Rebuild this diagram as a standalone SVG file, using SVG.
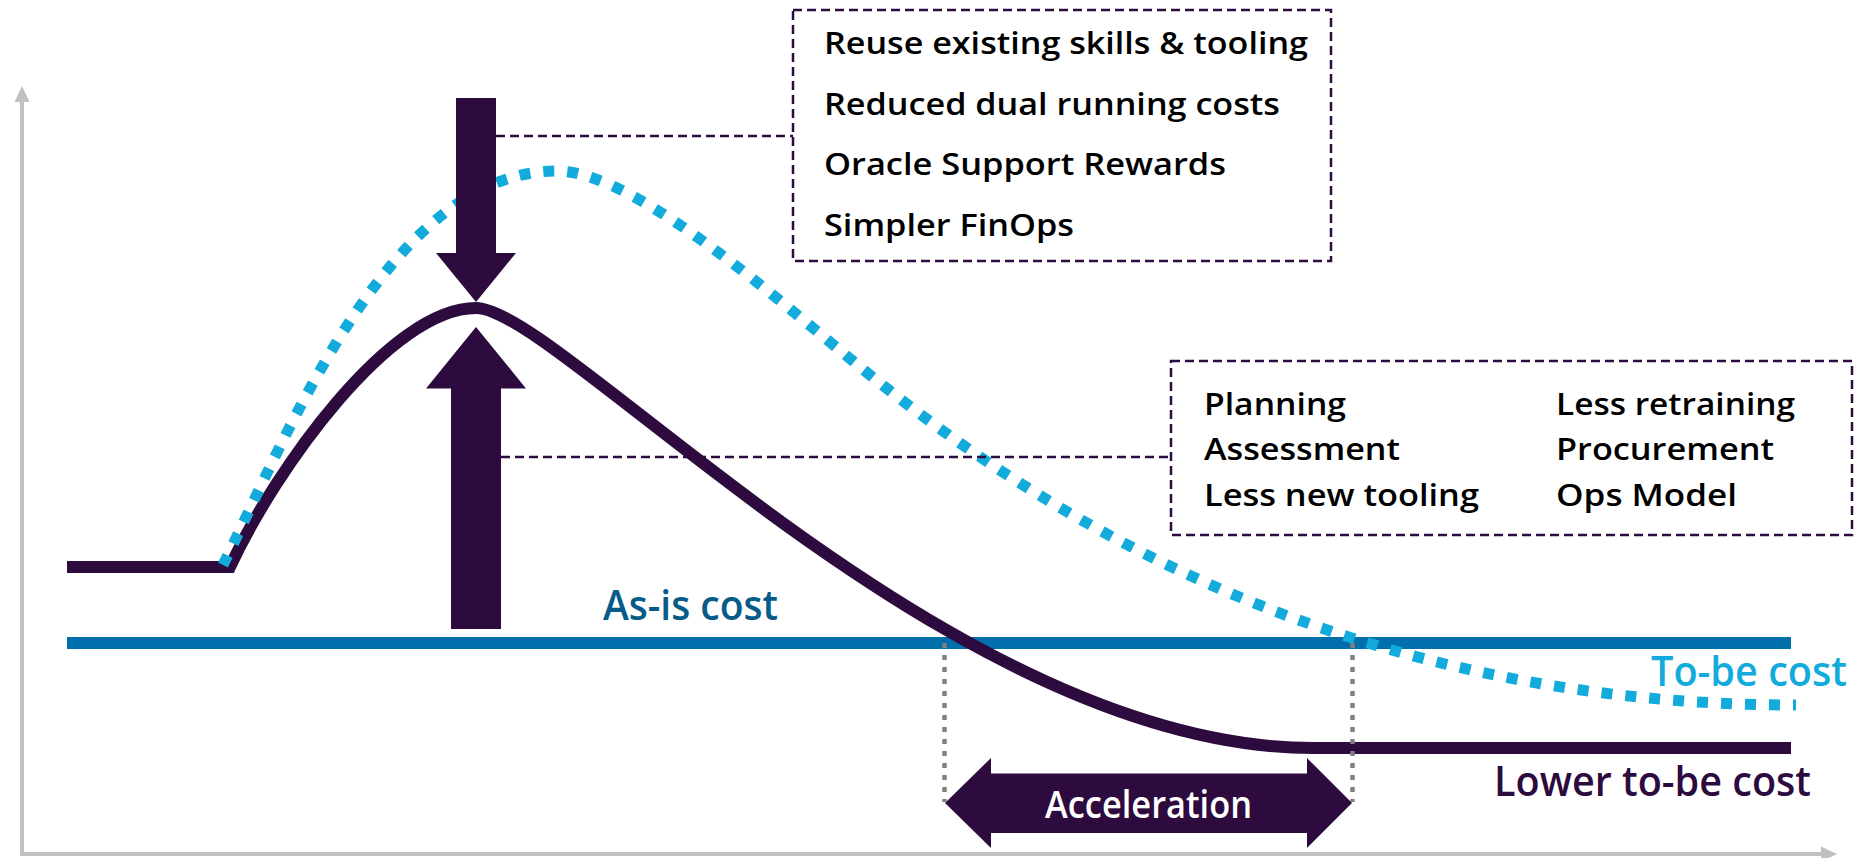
<svg xmlns="http://www.w3.org/2000/svg" width="1873" height="858" viewBox="0 0 1873 858">
  <style>
    .txt { font-family: "Open Sans", "Noto Sans", "Liberation Sans", sans-serif; font-weight: 600; }
    .box { fill: none; stroke: #2d0b3e; stroke-width: 2.5; stroke-dasharray: 9 5; }
    .conn { fill: none; stroke: #2d0b3e; stroke-width: 2.5; stroke-dasharray: 9 5; }
    .item { font-size: 31px; fill: #000000; }
    .purple { fill: #2d0b3e; }
    .gray { fill: none; stroke: #808080; stroke-width: 4.5; stroke-dasharray: 5 7; }
  </style>
  <rect x="0" y="0" width="1873" height="858" fill="#ffffff"/>

  <g id="axes">
    <line x1="22" y1="854" x2="22" y2="100" stroke="#c0c0c0" stroke-width="4"/>
    <polygon points="22,86 29.5,102 14.5,102" fill="#c0c0c0"/>
    <line x1="20" y1="854" x2="1822" y2="854" stroke="#c0c0c0" stroke-width="4"/>
    <polygon points="1837,854 1821,846.5 1821,861.5" fill="#c0c0c0"/>
  </g>

  <g id="as-is-line">
    <line x1="67" y1="643" x2="1791" y2="643" stroke="#006fab" stroke-width="12"/>
  </g>

  <g id="lower-cost-curve">
    <path d="M67,567 H230 C275,470 390,308 476,308 C560,308 950,748 1313,748 H1791" fill="none" stroke="#2d0b3e" stroke-width="12" stroke-linejoin="miter"/>
  </g>

  <g id="to-be-curve">
    <path d="M223,565 C290,430 390,171 557,171 C640,171 800,320 880,383 C1050,519 1350,705 1796,705" fill="none" stroke="#12abdb" stroke-width="11" stroke-dasharray="11 13"/>
  </g>

  <g id="acceleration-markers">
    <line x1="944.5" y1="643" x2="944.5" y2="802" class="gray"/>
    <line x1="1352.5" y1="643" x2="1352.5" y2="802" class="gray"/>
  </g>

  <g id="connectors">
    <line x1="496" y1="136" x2="793" y2="136" class="conn"/>
    <line x1="501" y1="457" x2="1171" y2="457" class="conn"/>
  </g>

  <g id="down-arrow">
    <polygon class="purple" points="456,98 496,98 496,253 516,253 476,302 436,253 456,253"/>
  </g>

  <g id="up-arrow">
    <polygon class="purple" points="476,327 526,388.5 501,388.5 501,629 451,629 451,388.5 426,388.5"/>
  </g>

  <g id="benefits-box">
    <rect class="box" x="793" y="10" width="538" height="251"/>
    <text class="txt item" x="824" y="53.5" textLength="484" lengthAdjust="spacingAndGlyphs">Reuse existing skills &amp; tooling</text>
    <text class="txt item" x="824" y="114.5" textLength="456" lengthAdjust="spacingAndGlyphs">Reduced dual running costs</text>
    <text class="txt item" x="824" y="175" textLength="402" lengthAdjust="spacingAndGlyphs">Oracle Support Rewards</text>
    <text class="txt item" x="824" y="235.5" textLength="250" lengthAdjust="spacingAndGlyphs">Simpler FinOps</text>
  </g>

  <g id="savings-box">
    <rect class="box" x="1171" y="361" width="681" height="174"/>
    <text class="txt item" x="1204" y="415" textLength="142" lengthAdjust="spacingAndGlyphs">Planning</text>
    <text class="txt item" x="1204" y="460" textLength="196" lengthAdjust="spacingAndGlyphs">Assessment</text>
    <text class="txt item" x="1204" y="505.5" textLength="275" lengthAdjust="spacingAndGlyphs">Less new tooling</text>
    <text class="txt item" x="1556" y="415" textLength="239" lengthAdjust="spacingAndGlyphs">Less retraining</text>
    <text class="txt item" x="1556" y="460" textLength="218" lengthAdjust="spacingAndGlyphs">Procurement</text>
    <text class="txt item" x="1556" y="505.5" textLength="181" lengthAdjust="spacingAndGlyphs">Ops Model</text>
  </g>

  <g id="acceleration">
    <polygon class="purple" points="945,803 991,758 991,773.5 1307,773.5 1307,758 1352,803 1307,848 1307,833 991,833 991,848"/>
    <text class="txt" x="1045" y="818" font-size="37" fill="#ffffff" textLength="207" lengthAdjust="spacingAndGlyphs">Acceleration</text>
  </g>

  <g id="labels">
    <text class="txt" x="603" y="620" font-size="41" fill="#075b89" textLength="175" lengthAdjust="spacingAndGlyphs">As-is cost</text>
    <text class="txt" x="1651" y="686" font-size="42" fill="#12abdb" textLength="196" lengthAdjust="spacingAndGlyphs">To-be cost</text>
    <text class="txt" x="1494" y="796" font-size="42" fill="#2d0b3e" textLength="317" lengthAdjust="spacingAndGlyphs">Lower to-be cost</text>
  </g>
</svg>
